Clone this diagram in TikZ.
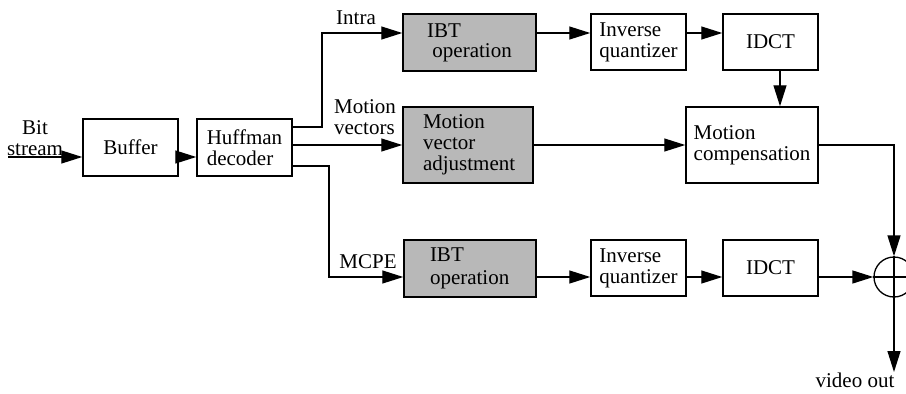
\documentclass[tikz,border=0pt]{standalone}
\usepackage{fontspec}
\setmainfont{Liberation Serif}
\usetikzlibrary{arrows.meta,calc}
\definecolor{boxgray}{RGB}{184,184,184}
\begin{document}
\begin{tikzpicture}[x=1pt,y=-1pt,
  txt/.style={font=\fontsize{21}{21}\selectfont},
  blk/.style={txt, draw, line width=1.5pt, inner sep=0pt, align=left},
  shaded/.style={blk, fill=boxgray},
  lbl/.style={txt, inner sep=0pt, align=left},
  wire/.style={line width=1.3pt},
  arr/.style={wire, -{Triangle[length=21pt,width=13pt]}}]
\useasboundingbox (0,0) rectangle (906,394);
\clip (0,0) rectangle (906,394);

% helper rows / columns
\coordinate (r1) at (0,33);
\coordinate (r3) at (0,277);
\coordinate (cx) at (780,0);
\coordinate (ja) at (322,33);
\coordinate (jb) at (329,277);
\coordinate (in) at (8,157);
\coordinate (out) at (894,372);

% blocks
\node[blk, minimum width=95pt, minimum height=57pt] (buf) at (130.5,147.5) {Buffer};
\node[blk, minimum width=95pt, minimum height=57pt] (huf) at (244.5,147.5) {Huffman\\decoder};
\node[shaded, minimum width=133pt, minimum height=57pt] (ibt1) at (469.5,42.5) {IBT\\[-1pt]\ operation};
\node[blk, minimum width=95pt, minimum height=56pt] (iq1) at (638.5,42) {Inverse\\quantizer};
\node[blk, minimum width=95pt, minimum height=56pt] (idct1) at (770.5,42) {IDCT};
\node[shaded, minimum width=130pt, minimum height=76pt, text width=90pt] (mva) at (468,145) {Motion\\vector\\adjustment};
\node[blk, minimum width=132pt, minimum height=76pt] (mc) at (752,145) {Motion\\compensation};
\node[shaded, minimum width=132pt, minimum height=57pt, text width=80pt] (ibt2) at (470,268.5) {IBT\\[2pt]operation};
\node[blk, minimum width=95pt, minimum height=56pt] (iq2) at (638.5,268) {Inverse\\quantizer};
\node[blk, minimum width=95pt, minimum height=56pt] (idct2) at (770.5,268) {IDCT};
\node[draw, circle, line width=1.3pt, minimum size=40pt, inner sep=0pt] (sum) at (894,277) {};
\draw[wire] (sum.north) -- (sum.south) (sum.west) -- (sum.east);

% labels
\node[lbl, align=center] (bitlbl) at (35,138) {Bit\\stream};
\node[lbl] (intralbl) at (356,18) {Intra};
\node[lbl] (mvlbl) at (365,117) {Motion\\vectors};
\node[lbl] (mcpelbl) at (368,262) {MCPE};
\node[lbl] (voutlbl) at (855,380) {video out};

% connectors
\draw[arr] (in) -- (buf.west |- in);
\draw[arr] (buf.east |- in) -- (huf.west |- in);
\draw[arr] ($(huf.east)+(0,-20.5)$) -| (ja) -- (ibt1.west |- ja);
\draw[arr] (huf.east |- mva.west) -- (mva.west);
\draw[arr] ($(huf.east)+(0,18.5)$) -| (jb) -- (ibt2.west |- jb);

\draw[arr] (ibt1.east |- r1) -- (iq1.west |- r1);
\draw[arr] (iq1.east |- r1) -- (idct1.west |- r1);
\draw[arr] (idct1.south -| cx) -- (mc.north -| cx);
\draw[arr] (mva.east) -- (mc.west);
\draw[arr] (mc.east) -| (sum.north);

\draw[arr] (ibt2.east |- r3) -- (iq2.west |- r3);
\draw[arr] (iq2.east |- r3) -- (idct2.west |- r3);
\draw[arr] (idct2.east |- r3) -- (sum.west);
\draw[arr] (sum.south) -- (out);
\end{tikzpicture}
\end{document}
